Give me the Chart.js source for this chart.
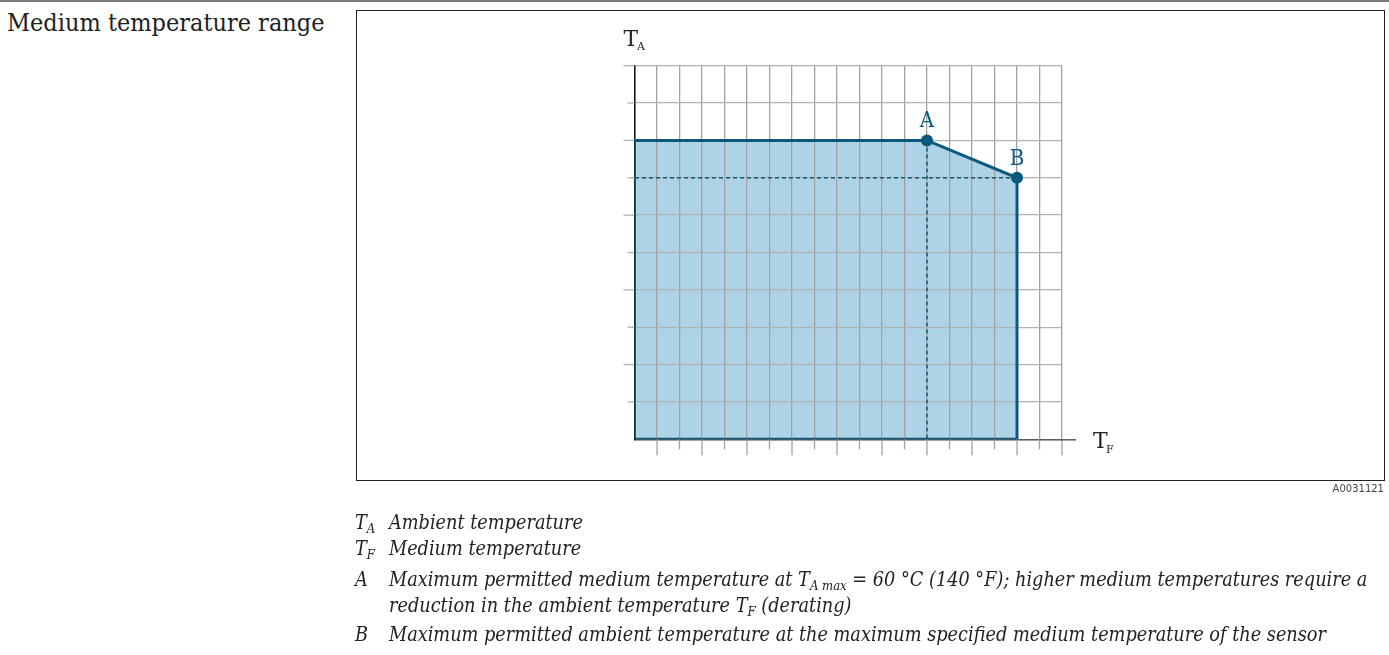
<!DOCTYPE html>
<html>
<head>
<meta charset="utf-8">
<script src="https://cdn.jsdelivr.net/npm/chart.js@4.4.0/dist/chart.umd.min.js"></script>
<style>
  html, body { margin: 0; padding: 0; background: #fff; }
  body { width: 1389px; height: 655px; position: relative; overflow: hidden; color: #222; }
  #rule { position: absolute; left: 0; top: 0; width: 1389px; height: 2px; background: #7c7c7c; }
  #title { position: absolute; left: 7px; top: 8px; font: 25px "DejaVu Serif Condensed", "DejaVu Serif", serif; color: #222; white-space: nowrap; }
  #frame { position: absolute; left: 356px; top: 10px; width: 1027px; height: 469px; border: 1.5px solid #222; }
  #chart { position: absolute; left: 0; top: 0; }
  #docid { position: absolute; right: 5px; top: 483px; font: 10px "DejaVu Sans", sans-serif; color: #444; }
  .cap { position: absolute; font: italic 19.7px "DejaVu Serif Condensed", "DejaVu Serif", serif; color: #222; white-space: nowrap; line-height: 22px; }
  .cap.key { left: 355px; }
  .cap.txt { left: 389px; }
  .cap sub { font-size: 13px; vertical-align: -4px; line-height: 0; }
</style>
</head>
<body>
<div id="rule"></div>
<div id="title">Medium temperature range</div>
<div id="frame"></div>
<canvas id="chart" width="1389" height="655"></canvas>
<div id="docid">A0031121</div>

<div class="cap key" style="top:512px">T<sub>A</sub></div>
<div class="cap txt" style="top:512px">Ambient temperature</div>
<div class="cap key" style="top:538px">T<sub>F</sub></div>
<div class="cap txt" style="top:538px">Medium temperature</div>
<div class="cap key" style="top:569px">A</div>
<div class="cap txt" style="top:569px">Maximum permitted medium temperature at T<sub>A max</sub> = 60 °C (140 °F); higher medium temperatures require a</div>
<div class="cap txt" style="top:595px">reduction in the ambient temperature T<sub>F</sub> (derating)</div>
<div class="cap key" style="top:624px">B</div>
<div class="cap txt" style="top:624px">Maximum permitted ambient temperature at the maximum specified medium temperature of the sensor</div>

<script>
// Grid extent in divisions (medium temperature T_F across, ambient temperature T_A up)
const tfDivisions = 19;
const taDivisions = 10;

// Permitted operating envelope, traced clockwise from the origin and closed along the base
const envelopeTF = [0, 0, 13, 17, 17, 0];
const envelopeTA = [0, 8, 8, 7, 0, 0];

// Characteristic points
const pointNames = ['A', 'B'];
const pointTF = [13, 17];
const pointTA = [8, 7];

const INK = '#0b5a7e';
const FILL = '#afd3e6';
const GRID_V = '#a2a2a2';
const GRID_H = '#b2b2b2';

const toXY = (xs, ys) => xs.map((x, i) => ({ x, y: ys[i] }));

// Shaded area: the envelope without its closing edge, filled down to T_A = 0
const envelopeArea = toXY(envelopeTF, envelopeTA).slice(0, -1);

// Dashed guides from A down to the T_F axis and from B across to the T_A axis
const guideA = [{ x: pointTF[0], y: pointTA[0] }, { x: pointTF[0], y: 0 }];
const guideB = [{ x: pointTF[1], y: pointTA[1] }, { x: 0, y: pointTA[1] }];

// Tick stubs outside the plot, alternating long and short
const tickStubs = {
  id: 'tickStubs',
  beforeDatasetsDraw(chart) {
    const { ctx, chartArea: a, scales: { x, y } } = chart;
    ctx.save();
    ctx.lineWidth = 1.3;
    for (let i = 1; i <= tfDivisions; i++) {
      const px = x.getPixelForValue(i);
      ctx.strokeStyle = GRID_V;
      ctx.beginPath();
      ctx.moveTo(px, a.bottom);
      ctx.lineTo(px, a.bottom + (i % 2 ? 16 : 10));
      ctx.stroke();
    }
    for (let j = 1; j <= taDivisions; j++) {
      const py = y.getPixelForValue(j);
      ctx.strokeStyle = GRID_H;
      ctx.beginPath();
      ctx.moveTo(a.left, py);
      ctx.lineTo(a.left - (j % 2 ? 7 : 11), py);
      ctx.stroke();
    }
    // T_F axis runs on past the grid
    ctx.strokeStyle = '#5a5a5a';
    ctx.lineWidth = 1.5;
    ctx.beginPath();
    ctx.moveTo(a.right - 1, a.bottom + 0.5);
    ctx.lineTo(a.right + 14, a.bottom + 0.5);
    ctx.stroke();
    ctx.restore();
  },
  afterDraw(chart) {
    const { ctx, chartArea: a } = chart;
    ctx.save();
    ctx.fillStyle = '#222';
    ctx.textBaseline = 'alphabetic';
    ctx.textAlign = 'left';
    // axis names with subscripts
    ctx.font = '22px "DejaVu Serif", serif';
    ctx.fillText('T', a.left - 11, a.top - 20);
    ctx.fillText('T', a.right + 31, a.bottom + 8.5);
    ctx.font = '11px "DejaVu Serif", serif';
    ctx.fillText('A', a.left + 2.5, a.top - 15.5);
    ctx.fillText('F', a.right + 44, a.bottom + 13.5);
    // point letters
    const meta = chart.getDatasetMeta(4);
    ctx.fillStyle = INK;
    ctx.textAlign = 'center';
    ctx.font = '22px "DejaVu Serif Condensed", "DejaVu Serif", serif';
    meta.data.forEach((el, i) => ctx.fillText(pointNames[i], el.x, el.y - 13));
    ctx.restore();
  }
};

new Chart(document.getElementById('chart'), {
  type: 'scatter',
  data: {
    datasets: [
      {
        data: envelopeArea,
        showLine: true,
        borderWidth: 0,
        borderColor: 'rgba(0,0,0,0)',
        backgroundColor: FILL,
        fill: 'origin',
        pointRadius: 0,
        tension: 0,
        order: 3
      },
      {
        data: toXY(envelopeTF, envelopeTA),
        showLine: true,
        borderColor: INK,
        borderWidth: 3,
        fill: false,
        pointRadius: 0,
        tension: 0,
        borderJoinStyle: 'miter',
        order: 1
      },
      {
        data: guideA,
        showLine: true,
        borderColor: INK,
        borderWidth: 1.5,
        borderDash: [4, 3],
        pointRadius: 0,
        fill: false,
        order: 2
      },
      {
        data: guideB,
        showLine: true,
        borderColor: INK,
        borderWidth: 1.5,
        borderDash: [4, 3],
        pointRadius: 0,
        fill: false,
        order: 2
      },
      {
        data: toXY(pointTF, pointTA),
        showLine: false,
        pointRadius: 6,
        pointBackgroundColor: INK,
        pointBorderColor: INK,
        pointBorderWidth: 0,
        order: 0
      }
    ]
  },
  options: {
    responsive: false,
    animation: false,
    devicePixelRatio: 1,
    events: [],
    layout: { padding: { left: 634.5, right: 327, top: 65.7, bottom: 215.7 } },
    plugins: {
      legend: { display: false },
      tooltip: { enabled: false },
      filler: { drawTime: 'beforeDraw' }
    },
    scales: {
      x: {
        type: 'linear',
        min: 0,
        max: tfDivisions,
        ticks: { display: false, stepSize: 1 },
        grid: { color: GRID_V, lineWidth: 1.3, drawTicks: false },
        border: { display: true, color: '#5a5a5a', width: 1.5 }
      },
      y: {
        type: 'linear',
        min: 0,
        max: taDivisions,
        ticks: { display: false, stepSize: 1 },
        grid: { color: GRID_H, lineWidth: 1.3, drawTicks: false },
        border: { display: true, color: '#111', width: 1.5 }
      }
    }
  },
  plugins: [tickStubs]
});
</script>
</body>
</html>
